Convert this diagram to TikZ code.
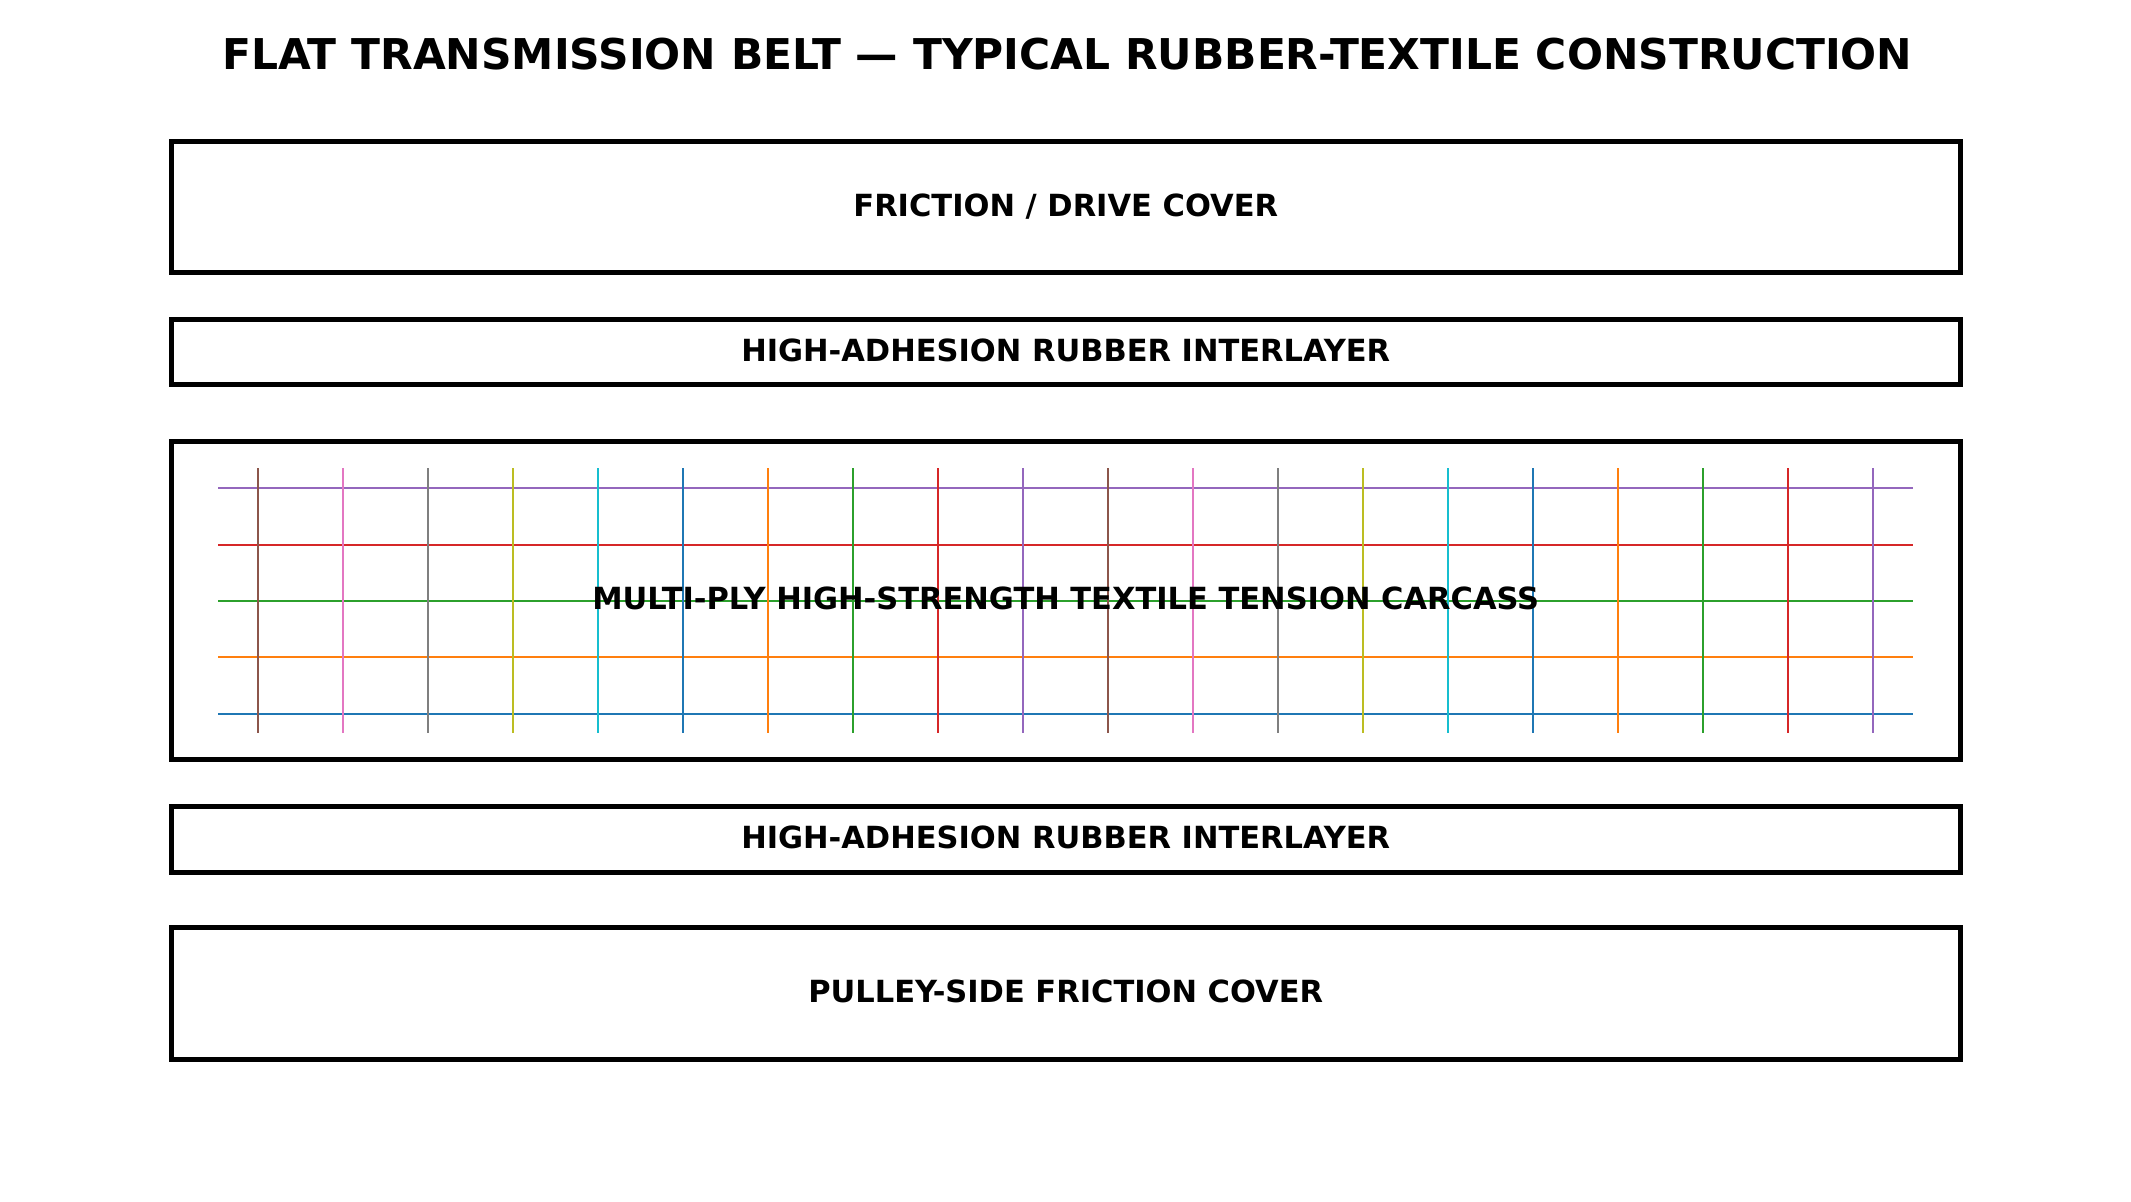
\documentclass[tikz,border=0pt]{standalone}
\usepackage{fontspec}
\setmainfont{DejaVu Sans}
\definecolor{tabblue}{HTML}{1F77B4}
\definecolor{taborange}{HTML}{FF7F0E}
\definecolor{tabgreen}{HTML}{2CA02C}
\definecolor{tabred}{HTML}{D62728}
\definecolor{tabpurple}{HTML}{9467BD}
\definecolor{tabbrown}{HTML}{8C564B}
\definecolor{tabpink}{HTML}{E377C2}
\definecolor{tabgray}{HTML}{7F7F7F}
\definecolor{tabolive}{HTML}{BCBD22}
\definecolor{tabcyan}{HTML}{17BECF}

\begin{document}
\begin{tikzpicture}[x=.5pt,y=-.5pt,
	beltlayer/.style={draw=black,line width=2.5pt,minimum width=894.25pt,inner sep=0pt,
		font=\fontsize{15.25}{18}\selectfont\bfseries,text height=11pt,text depth=2pt},
	weft/.style={line width=1.1pt},
	warp/.style={line width=.95pt}]
	\useasboundingbox (0,0) rectangle (2131,1201);
	
	\node[font=\fontsize{21.2}{24}\selectfont\bfseries,text height=15.5pt,text depth=4pt,inner sep=0pt] (title) at (1067.5,57.7) {FLAT TRANSMISSION BELT — TYPICAL RUBBER-TEXTILE CONSTRUCTION};
	
	% textile grid of the carcass
	\foreach \c [count=\j from 0] in {tabblue,taborange,tabgreen,tabred,tabpurple}
		\draw[weft,\c] (218,{713.7-56.35*\j}) -- (1913.3,{713.7-56.35*\j});
	\foreach \c [count=\i from 0] in {tabbrown,tabpink,tabgray,tabolive,tabcyan,tabblue,taborange,tabgreen,tabred,tabpurple,
		tabbrown,tabpink,tabgray,tabolive,tabcyan,tabblue,taborange,tabgreen,tabred,tabpurple}
		\draw[warp,\c] ({257.7+85*\i},468.3) -- ({257.7+85*\i},732.7);
	
	\node[beltlayer,minimum height=65.7pt] (cover) at (1065.75,207) {FRICTION / DRIVE COVER};
	\node[beltlayer,minimum height=32.7pt] (inter1) at (1065.75,352) {HIGH-ADHESION RUBBER INTERLAYER};
	\node[beltlayer,minimum height=159pt] (carcass) at (1065.75,600.5) {MULTI-PLY HIGH-STRENGTH TEXTILE TENSION CARCASS};
	\node[beltlayer,minimum height=33pt] (inter2) at (1065.75,839) {HIGH-ADHESION RUBBER INTERLAYER};
	\node[beltlayer,minimum height=65.8pt] (pulley) at (1065.75,993.5) {PULLEY-SIDE FRICTION COVER};
	
\end{tikzpicture}
\end{document}
